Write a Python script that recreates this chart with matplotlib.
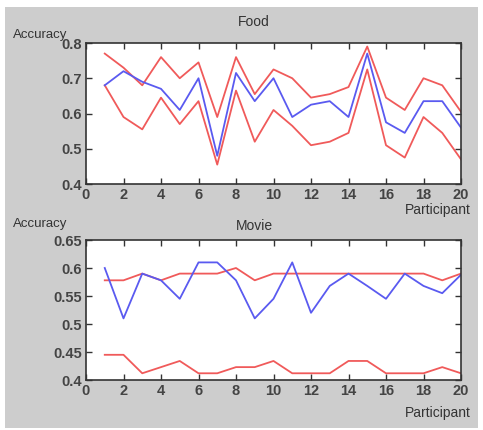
import matplotlib
matplotlib.use("Agg")
from matplotlib import pyplot as plt
from matplotlib.patches import Rectangle

participants = list(range(1, 21))

# Food accuracy
food_upper = [0.77, 0.73, 0.68, 0.76, 0.70, 0.745, 0.59, 0.76, 0.655, 0.725,
              0.70, 0.645, 0.655, 0.675, 0.79, 0.645, 0.61, 0.70, 0.68, 0.605]
food_mean = [0.68, 0.72, 0.69, 0.67, 0.61, 0.70, 0.48, 0.715, 0.635, 0.70,
             0.59, 0.625, 0.635, 0.59, 0.77, 0.575, 0.545, 0.635, 0.635, 0.56]
food_lower = [0.68, 0.59, 0.555, 0.645, 0.57, 0.635, 0.455, 0.665, 0.52, 0.61,
              0.565, 0.51, 0.52, 0.545, 0.725, 0.51, 0.475, 0.59, 0.545, 0.47]

# Movie accuracy
movie_upper = [0.578, 0.578, 0.59, 0.578, 0.59, 0.59, 0.59, 0.60, 0.578, 0.59,
               0.59, 0.59, 0.59, 0.59, 0.59, 0.59, 0.59, 0.59, 0.578, 0.59]
movie_mean = [0.60, 0.51, 0.59, 0.578, 0.545, 0.61, 0.61, 0.578, 0.51, 0.545,
              0.61, 0.52, 0.568, 0.59, 0.568, 0.545, 0.59, 0.568, 0.555, 0.588]
movie_lower = [0.445, 0.445, 0.412, 0.423, 0.434, 0.412, 0.412, 0.423, 0.423, 0.434,
               0.412, 0.412, 0.412, 0.434, 0.434, 0.412, 0.412, 0.412, 0.423, 0.412]

food_yticks = [0.4, 0.5, 0.6, 0.7, 0.8]
movie_yticks = [0.4, 0.45, 0.5, 0.55, 0.6, 0.65]
xticks = [0, 2, 4, 6, 8, 10, 12, 14, 16, 18, 20]

RED = "#f05a5a"
BLUE = "#5a5af0"
BG = "#cdcdcd"
TXT = "#333333"

plt.rcParams['font.family'] = ['Liberation Sans Narrow', 'Liberation Sans', 'DejaVu Sans']

W, H = 483, 430
fig = plt.figure(figsize=(W / 100, H / 100), dpi=100, facecolor="white")

# gray panel behind the plots
fig.patches.append(Rectangle((5 / W, 1 - 428 / H), 473 / W, 421 / H,
                             transform=fig.transFigure, facecolor=BG,
                             edgecolor="none", zorder=-10))


def px(x, y):
    return x / W, 1 - y / H


def panel(rect, upper, mean, lower, ylim, yticks, ylabels, title, title_y, acc_y, part_y):
    ax = fig.add_axes(rect)
    ax.set_zorder(5)
    ax.set_facecolor("white")
    ax.plot(participants, upper, color=RED, lw=1.3)
    ax.plot(participants, lower, color=RED, lw=1.3)
    ax.plot(participants, mean, color=BLUE, lw=1.3)
    ax.set_xlim(0, 20)
    ax.set_ylim(*ylim)
    ax.set_xticks(xticks)
    ax.set_yticks(yticks)
    ax.set_yticklabels(ylabels)
    ax.tick_params(direction="in", top=True, right=True, length=4, width=1,
                   colors=TXT, labelsize=10.5, pad=3)
    for lab in ax.get_xticklabels() + ax.get_yticklabels():
        lab.set_fontweight("bold")
        lab.set_color("#444444")
    for s in ax.spines.values():
        s.set_color("#333333")
        s.set_linewidth(1.2)
    fig.text(*px(254, title_y), title, ha="center", va="center",
             fontsize=10, color=TXT, family=['Liberation Sans', 'DejaVu Sans'])
    fig.text(*px(13, acc_y), "Accuracy", ha="left", va="center",
             fontsize=9.5, color=TXT, family=['Liberation Sans', 'DejaVu Sans'])
    fig.text(*px(471, part_y), "Participant", ha="right", va="center",
             fontsize=10, color=TXT, family=['Liberation Sans', 'DejaVu Sans'])
    return ax


panel([86 / W, 1 - 184 / H, 375 / W, 141 / H], food_upper, food_mean, food_lower,
      (0.4, 0.8), food_yticks, ["0.4", "0.5", "0.6", "0.7", "0.8"],
      "Food", 22, 35, 210)
panel([86 / W, 1 - 380 / H, 375 / W, 140 / H], movie_upper, movie_mean, movie_lower,
      (0.4, 0.65), movie_yticks, ["0.4", "0.45", "0.5", "0.55", "0.6", "0.65"],
      "Movie", 226, 224, 413)

fig.savefig("out.png", dpi=100, facecolor="white")
